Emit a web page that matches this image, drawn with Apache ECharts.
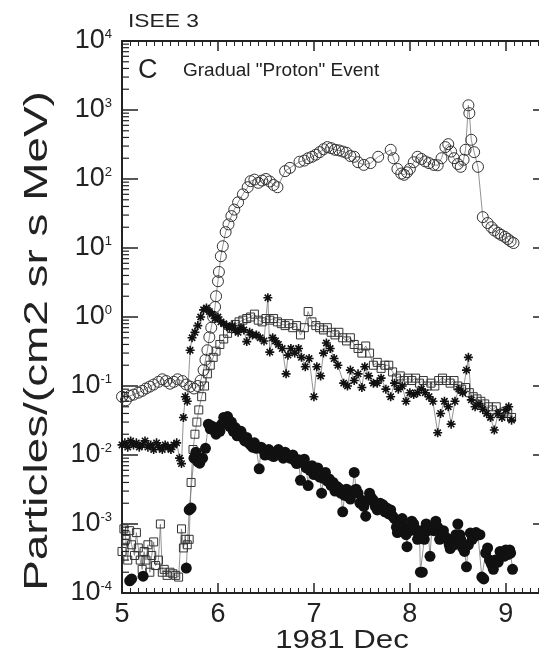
<!DOCTYPE html>
<html>
<head>
<meta charset="utf-8">
<script src="https://cdn.jsdelivr.net/npm/echarts@6/dist/echarts.min.js"></script>
<style>html,body{margin:0;padding:0;background:#fff}#c{width:539px;height:659px}</style>
</head>
<body>
<div id="c"></div>
<script>
// ---- Data (day of 1981 Dec, particles/(cm2 sr s MeV)) ----
const circleDays = [5.00,5.04,5.08,5.12,5.17,5.21,5.25,5.29,5.33,5.38,5.42,5.46,5.50,5.54,5.58,5.63,5.67,5.71,5.75,5.79,5.82,5.85,5.87,5.89,5.91,5.93,5.95,5.97,5.98,6.00,6.01,6.03,6.05,6.08,6.11,6.14,6.17,6.21,6.26,6.31,6.34,6.38,6.42,6.46,6.50,6.54,6.58,6.62,6.70,6.75,6.85,6.90,6.94,6.98,7.02,7.06,7.10,7.14,7.18,7.22,7.26,7.30,7.34,7.38,7.42,7.46,7.52,7.59,7.67,7.80,7.83,7.87,7.91,7.94,7.97,8.00,8.04,8.08,8.12,8.16,8.20,8.25,8.29,8.33,8.37,8.40,8.43,8.46,8.50,8.53,8.56,8.58,8.61,8.62,8.64,8.67,8.71,8.76,8.81,8.85,8.88,8.92,8.95,8.99,9.02,9.05,9.08];
const circleVals = [0.070,0.062,0.072,0.075,0.080,0.085,0.092,0.098,0.105,0.115,0.125,0.118,0.108,0.115,0.125,0.118,0.105,0.098,0.092,0.100,0.120,0.170,0.240,0.330,0.510,0.700,1.00,1.40,2.00,3.30,4.5,7.6,10.6,17,22,29,36,46,60,76,93,98,88,95,100,92,82,76,130,145,178,185,200,210,225,245,270,290,280,265,260,250,240,215,210,175,160,170,210,265,200,140,120,115,125,140,175,210,195,180,170,160,158,200,290,320,250,200,165,150,190,265,1170,900,370,245,150,28,23,20,18,16.5,15.5,14.5,13.5,12.5,11.8];

const squareDays = [5.00,5.02,5.04,5.06,5.08,5.10,5.13,5.15,5.17,5.19,5.21,5.23,5.25,5.27,5.29,5.31,5.33,5.35,5.38,5.40,5.42,5.44,5.47,5.50,5.53,5.56,5.59,5.62,5.64,5.66,5.68,5.70,5.72,5.74,5.76,5.78,5.80,5.83,5.86,5.89,5.92,5.95,5.98,6.02,6.06,6.10,6.14,6.18,6.22,6.26,6.30,6.34,6.38,6.42,6.46,6.50,6.54,6.58,6.62,6.66,6.70,6.74,6.78,6.82,6.86,6.90,6.94,6.98,7.02,7.06,7.10,7.14,7.18,7.22,7.26,7.30,7.34,7.38,7.42,7.46,7.50,7.54,7.58,7.62,7.66,7.70,7.74,7.78,7.82,7.86,7.90,7.94,7.98,8.02,8.06,8.10,8.14,8.18,8.22,8.26,8.30,8.34,8.38,8.42,8.46,8.50,8.54,8.58,8.62,8.66,8.70,8.74,8.78,8.82,8.86,8.90,8.94,8.98,9.02,9.06];
const squareVals = [4.0e-4,8.5e-4,6.0e-4,3.0e-4,8.0e-4,5.0e-4,3.5e-4,7.5e-4,4.5e-4,3.0e-4,2.2e-4,4.0e-4,3.0e-4,5.0e-4,2.0e-4,3.5e-4,5.5e-4,2.5e-4,3.0e-4,1.0e-3,2.0e-4,2.2e-4,1.8e-4,2.0e-4,1.9e-4,1.8e-4,1.7e-4,8.5e-4,4.5e-4,6.0e-4,5.0e-4,6.0e-4,4.0e-3,0.012,0.020,0.030,0.045,0.07,0.10,0.15,0.20,0.26,0.32,0.40,0.48,0.58,0.68,0.78,0.85,0.90,0.95,1.00,1.1,0.9,0.85,0.95,0.9,0.95,0.85,0.8,0.75,0.8,0.7,0.75,0.55,0.7,1.2,0.85,0.75,0.7,0.65,0.7,0.6,0.55,0.6,0.5,0.45,0.5,0.4,0.35,0.3,0.38,0.3,0.2,0.22,0.18,0.2,0.2,0.16,0.13,0.14,0.12,0.13,0.12,0.13,0.11,0.12,0.10,0.11,0.10,0.12,0.13,0.12,0.11,0.12,0.10,0.09,0.095,0.08,0.07,0.065,0.06,0.055,0.05,0.045,0.05,0.04,0.042,0.04,0.035];

const starDays = [5.00,5.03,5.06,5.09,5.12,5.15,5.18,5.21,5.24,5.27,5.30,5.33,5.36,5.39,5.42,5.45,5.48,5.51,5.54,5.57,5.60,5.62,5.64,5.66,5.68,5.71,5.73,5.76,5.79,5.82,5.85,5.88,5.91,5.94,5.97,6.00,6.03,6.06,6.09,6.12,6.15,6.18,6.21,6.24,6.27,6.30,6.33,6.36,6.40,6.44,6.48,6.52,6.54,6.57,6.60,6.63,6.67,6.71,6.73,6.76,6.80,6.84,6.87,6.91,6.95,7.00,7.03,7.07,7.10,7.13,7.17,7.21,7.25,7.31,7.35,7.38,7.42,7.46,7.50,7.53,7.57,7.62,7.66,7.70,7.75,7.80,7.84,7.88,7.92,7.96,8.00,8.04,8.08,8.12,8.16,8.20,8.24,8.29,8.32,8.36,8.40,8.43,8.47,8.51,8.55,8.59,8.61,8.64,8.68,8.72,8.76,8.80,8.84,8.88,8.92,8.96,9.00,9.03,9.06];
const starVals = [0.014,0.015,0.013,0.016,0.014,0.015,0.013,0.014,0.016,0.013,0.014,0.012,0.015,0.013,0.012,0.014,0.013,0.012,0.014,0.015,0.009,0.0075,0.035,0.07,0.06,0.33,0.5,0.6,0.75,1.0,1.27,1.35,1.2,1.1,0.95,1.0,0.85,0.8,0.75,0.7,0.75,0.65,0.6,0.7,0.65,0.44,0.6,0.55,0.55,0.5,0.45,1.9,0.31,0.5,0.45,0.4,0.35,0.15,0.28,0.35,0.3,0.35,0.26,0.19,0.25,0.07,0.19,0.14,0.3,0.42,0.35,0.25,0.2,0.11,0.10,0.17,0.12,0.15,0.095,0.19,0.14,0.11,0.11,0.13,0.09,0.07,0.11,0.09,0.10,0.06,0.08,0.075,0.08,0.09,0.08,0.07,0.06,0.021,0.04,0.06,0.05,0.028,0.06,0.09,0.08,0.17,0.26,0.063,0.05,0.055,0.046,0.04,0.035,0.023,0.04,0.035,0.045,0.05,0.032];

const dotDays = [5.08,5.10,5.22,5.40,5.67,5.70,5.72,5.75,5.77,5.79,5.81,5.84,5.87,5.90,5.92,5.94,5.96,5.98,6.00,6.02,6.04,6.06,6.08,6.10,6.12,6.14,6.16,6.18,6.20,6.22,6.24,6.26,6.28,6.30,6.32,6.34,6.36,6.38,6.40,6.43,6.45,6.47,6.49,6.51,6.53,6.55,6.58,6.60,6.63,6.65,6.68,6.70,6.72,6.75,6.78,6.80,6.82,6.84,6.86,6.88,6.90,6.92,6.94,6.96,6.98,7.00,7.02,7.04,7.06,7.08,7.10,7.12,7.14,7.16,7.18,7.20,7.22,7.24,7.26,7.28,7.30,7.32,7.34,7.36,7.38,7.40,7.42,7.44,7.46,7.48,7.50,7.52,7.54,7.56,7.58,7.60,7.62,7.64,7.66,7.69,7.72,7.74,7.76,7.78,7.80,7.82,7.84,7.86,7.87,7.89,7.90,7.92,7.94,7.96,7.97,7.99,8.00,8.02,8.04,8.06,8.08,8.10,8.11,8.13,8.15,8.17,8.19,8.21,8.23,8.25,8.27,8.29,8.31,8.33,8.35,8.37,8.39,8.41,8.42,8.44,8.46,8.48,8.50,8.52,8.53,8.55,8.57,8.59,8.61,8.63,8.65,8.67,8.69,8.71,8.73,8.75,8.77,8.79,8.81,8.83,8.85,8.87,8.89,8.92,8.94,8.96,8.98,9.00,9.02,9.04,9.05,9.07];
const dotVals = [1.5e-4,1.6e-4,1.75e-4,null,2.3e-4,1.6e-3,1.7e-3,9e-3,1.1e-2,8e-3,7.6e-3,9e-3,1.25e-2,2.8e-2,2.4e-2,2.6e-2,2.3e-2,2.0e-2,2.5e-2,2.2e-2,2.8e-2,3.5e-2,3.0e-2,3.6e-2,2.6e-2,3.0e-2,2.2e-2,2.5e-2,1.9e-2,2.1e-2,2.2e-2,1.8e-2,1.6e-2,1.8e-2,1.5e-2,1.4e-2,1.3e-2,1.5e-2,1.25e-2,6.3e-3,1.3e-2,1.2e-2,1.0e-2,1.1e-2,1.2e-2,1.0e-2,9.5e-3,1.1e-2,1.2e-2,1.05e-2,9e-3,1.1e-2,9.5e-3,9e-3,1.0e-2,8.3e-3,7.5e-3,8.5e-3,4.3e-3,7.8e-3,8.7e-3,6.5e-3,3.6e-3,6e-3,7e-3,5.2e-3,6e-3,6.5e-3,4.8e-3,2.8e-3,4.6e-3,5.6e-3,4.2e-3,4.5e-3,3.6e-3,4e-3,3.0e-3,3.5e-3,3.3e-3,2.8e-3,1.5e-3,2.6e-3,3.2e-3,2.5e-3,2.3e-3,3.0e-3,5.6e-3,3.2e-3,2.8e-3,2.0e-3,2.2e-3,1.8e-3,1.3e-3,2.2e-3,2.8e-3,2.4e-3,2.2e-3,1.8e-3,1.6e-3,2.0e-3,1.9e-3,1.5e-3,1.7e-3,1.4e-3,1.6e-3,1.3e-3,1.2e-3,9e-4,7.5e-4,1.0e-3,1.1e-3,1.2e-3,9e-4,7e-4,4.7e-4,9e-4,8e-4,1.1e-3,1.0e-3,8e-4,6e-4,8e-4,2e-4,2e-4,6e-4,1.0e-3,8e-4,3.4e-4,9e-4,8e-4,1.1e-3,9e-4,6e-4,7e-4,8e-4,6.5e-4,6e-4,5e-4,4.4e-4,6e-4,5e-4,7e-4,1e-3,7e-4,6e-4,4.5e-4,4e-4,2.4e-4,5e-4,7.4e-4,6e-4,6.5e-4,7.5e-4,7e-4,7e-4,1.7e-4,1.6e-4,3.8e-4,4.5e-4,3e-4,2.6e-4,2.2e-4,3e-4,2.8e-4,4e-4,3.5e-4,3.4e-4,4.2e-4,3.6e-4,4.2e-4,3.8e-4,2.2e-4];

const xTicks = [5, 6, 7, 8, 9];
const yDecades = [-4, -3, -2, -1, 0, 1, 2, 3, 4];
const titleText = 'ISEE 3';
const panelLetter = 'C';
const panelText = 'Gradual "Proton" Event';
const xTitle = '1981 Dec';
const yTitle = 'Particles/(cm2 sr s MeV)';

// ---- Chart ----
const X_MIN = 5, X_MAX = 9.45;
const FONT = '"Liberation Sans", Arial, sans-serif';
const INK = '#222';
const zip = (a, b) => a.map((d, i) => [d, b[i] === null ? '-' : b[i]]);

const minorY = [];
yDecades.slice(0, -1).forEach(e => { for (let m = 2; m <= 9; m++) minorY.push(m * Math.pow(10, e)); });

const chart = echarts.init(document.getElementById('c'), null, {renderer: 'canvas'});
const lineStyle = {color: '#777', width: 0.8};

const option = {
  animation: false,
  backgroundColor: '#fff',
  grid: {left: 122, top: 41, width: 427, bottom: 66, containLabel: false, outerBoundsMode: 'none'},
  xAxis: [{
    type: 'value', min: X_MIN, max: X_MAX, interval: 1,
    axisLine: {lineStyle: {color: INK, width: 2}},
    axisTick: {inside: true, length: 10, lineStyle: {color: INK, width: 1.5}},
    minorTick: {show: true, splitNumber: 12, length: 5, lineStyle: {color: INK, width: 1}},
    splitLine: {show: false},
    axisLabel: {color: INK, fontFamily: FONT, fontSize: 27, margin: 8,
      formatter: v => xTicks.indexOf(v) >= 0 ? String(v) : ''}
  }, {
    type: 'value', position: 'top', min: X_MIN, max: X_MAX, interval: 1,
    axisLine: {lineStyle: {color: INK, width: 2}},
    axisTick: {inside: true, length: 10, lineStyle: {color: INK, width: 1.5}},
    minorTick: {show: true, splitNumber: 12, length: 5, lineStyle: {color: INK, width: 1}},
    splitLine: {show: false}, axisLabel: {show: false}
  }],
  yAxis: [{
    type: 'log', logBase: 10, min: 1e-4, max: 1e4,
    axisLine: {lineStyle: {color: INK, width: 2}},
    axisTick: {inside: true, length: 16, lineStyle: {color: INK, width: 1.5}},
    splitLine: {show: false},
    axisLabel: {
      color: INK, fontFamily: FONT, margin: 10,
      formatter: v => { const e = Math.round(Math.log10(v)); return '{b|10}{s|' + e + '}'; },
      rich: {b: {fontSize: 27, fontFamily: FONT, color: INK},
             s: {fontSize: 13, fontFamily: FONT, color: INK, verticalAlign: 'top', padding: [0, 0, 12, 0]}}
    }
  }, {
    type: 'log', logBase: 10, min: 1e-4, max: 1e4, position: 'right',
    axisLine: {lineStyle: {color: INK, width: 2}},
    axisTick: {inside: true, length: 16, lineStyle: {color: INK, width: 1.5}},
    splitLine: {show: false}, axisLabel: {show: false}
  }],
  series: [
    {
      type: 'custom', silent: true, clip: false, z: 5,
      data: minorY.map(v => [X_MIN, v]),
      renderItem: (params, api) => {
        const l = api.coord([X_MIN, api.value(1)]);
        const r = api.coord([X_MAX, api.value(1)]);
        return {type: 'group', children: [
          {type: 'line', shape: {x1: l[0], y1: l[1], x2: l[0] + 7, y2: l[1]}, style: {stroke: INK, lineWidth: 1.2}},
          {type: 'line', shape: {x1: r[0], y1: r[1], x2: r[0] - 7, y2: r[1]}, style: {stroke: INK, lineWidth: 1.2}}
        ]};
      }
    },
    {
      name: 'open circles', type: 'line', data: zip(circleDays, circleVals),
      symbol: 'circle', symbolSize: 11, showAllSymbol: true,
      lineStyle: lineStyle,
      itemStyle: {color: 'rgba(0,0,0,0)', borderColor: '#333', borderWidth: 1}
    },
    {
      name: 'open squares', type: 'line', data: zip(squareDays, squareVals),
      symbol: 'rect', symbolSize: 8, showAllSymbol: true,
      lineStyle: lineStyle,
      itemStyle: {color: 'rgba(0,0,0,0)', borderColor: '#333', borderWidth: 1}
    },
    {
      name: 'asterisks', type: 'line', data: zip(starDays, starVals),
      symbol: 'path://M0,-10L0,10M-10,0L10,0M-7,-7L7,7M-7,7L7,-7', symbolSize: 9, showAllSymbol: true,
      lineStyle: lineStyle,
      itemStyle: {color: 'rgba(0,0,0,0)', borderColor: '#111', borderWidth: 1.6}
    },
    {
      name: 'filled circles', type: 'line', data: zip(dotDays, dotVals),
      symbol: 'circle', symbolSize: 11, showAllSymbol: true, connectNulls: false,
      lineStyle: lineStyle,
      itemStyle: {color: '#111', borderColor: '#111', borderWidth: 0}
    }
  ],
  graphic: [
    {type: 'text', x: 128, y: 12, scaleX: 1.2, style: {text: titleText, font: '19px ' + FONT, fill: INK, verticalAlign: 'top'}},
    {type: 'text', x: 138, y: 57, style: {text: panelLetter, font: '27px ' + FONT, fill: INK, verticalAlign: 'top'}},
    {type: 'text', x: 183, y: 61, style: {text: panelText, font: '19px ' + FONT, fill: INK, verticalAlign: 'top'}},
    {type: 'text', x: 342, y: 641, scaleX: 1.2, style: {text: xTitle, font: '26px ' + FONT, fill: INK, align: 'center', verticalAlign: 'middle'}},
    {type: 'text', x: 38, y: 341, rotation: Math.PI / 2, scaleX: 1.39, style: {text: yTitle, font: '33px ' + FONT, fill: INK, align: 'center', verticalAlign: 'middle'}}
  ]
};
chart.setOption(option);
</script>
</body>
</html>
